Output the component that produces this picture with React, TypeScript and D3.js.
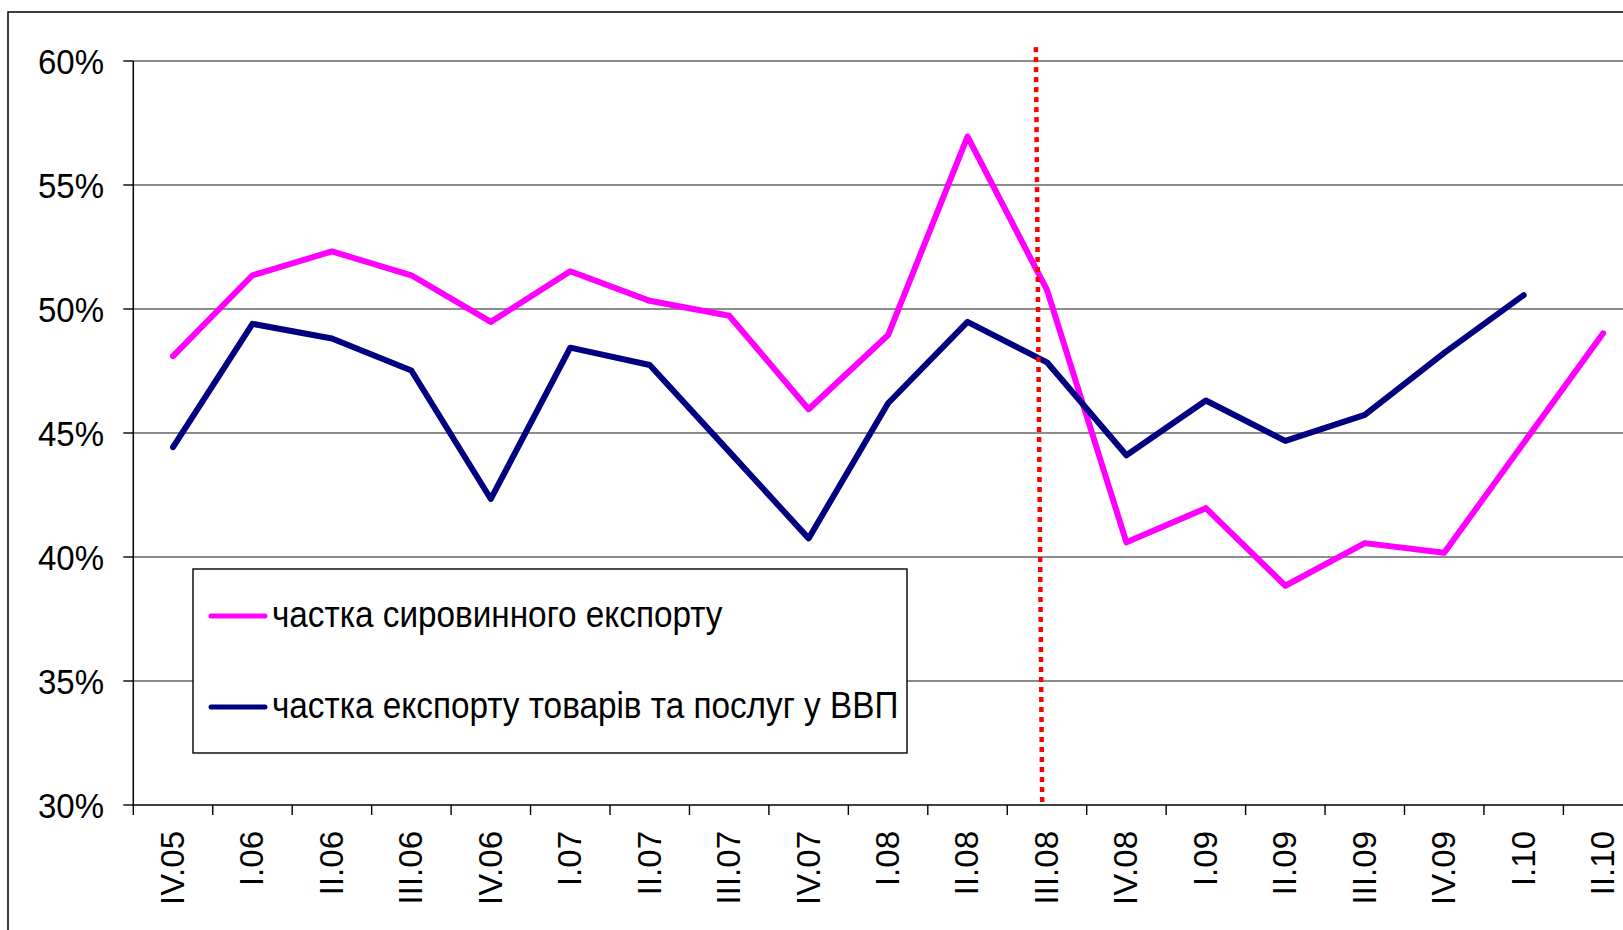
import React from "react";
import * as d3 from "d3";

const categories = [
  "IV.05", "I.06", "II.06", "III.06", "IV.06", "I.07", "II.07", "III.07", "IV.07",
  "I.08", "II.08", "III.08", "IV.08", "I.09", "II.09", "III.09", "IV.09", "I.10", "II.10",
];

// частка сировинного експорту
const rawShare: (number | null)[] = [
  48.1, 51.36, 52.32, 51.36, 49.48, 51.52, 50.33, 49.73, 45.96,
  48.95, 56.95, 50.77, 40.59, 41.97, 38.84, 40.56, 40.17, 44.6, 49.02,
];

// частка експорту товарів та послуг у ВВП
const exportShare: (number | null)[] = [
  44.43, 49.4, 48.81, 47.52, 42.34, 48.44, 47.74, 44.25, 40.75,
  46.2, 49.48, 47.85, 44.1, 46.31, 44.68, 45.73, 48.23, 50.56, null,
];

const yTicks = [30, 35, 40, 45, 50, 55, 60];

const seriesNames = ["частка сировинного експорту", "частка експорту товарів та послуг у ВВП"];
const seriesColors = ["#FF00FF", "#000080"];

const markerCategory = "III.08";
const markerTop = 60.56;

const W = 1623;
const H = 930;
const FONT = "'Liberation Sans', Arial, sans-serif";

export default function App() {
  const left = 133.3;
  const bw = 79.45;
  const x = d3
    .scaleBand<string>()
    .domain(categories)
    .range([left, left + bw * categories.length])
    .paddingInner(0)
    .paddingOuter(0);
  const y = d3.scaleLinear().domain([30, 60]).range([805, 61]);

  const cx = (c: string) => (x(c) as number) + x.bandwidth() / 2;

  const line = d3
    .line<number | null>()
    .defined((d) => d !== null)
    .x((_, i) => cx(categories[i]))
    .y((d) => y(d as number));

  const xRight = left + bw * categories.length;
  const mx0 = (x(markerCategory) as number) + x.bandwidth() * 0.36;
  const mx1 = (x(markerCategory) as number) + x.bandwidth() * 0.44;

  const legendX = 193;
  const legendY = 569;
  const legendW = 714;
  const legendH = 184;

  return (
    <div style={{ position: "fixed", left: 0, top: 0, width: W, height: H, overflow: "hidden", background: "#fff" }}>
      <svg width={W} height={H} style={{ display: "block" }} fontFamily={FONT}>
        <rect x={0} y={0} width={W} height={H} fill="#fff" />
        {/* outer frame (extends beyond the viewport) */}
        <rect x={8} y={12} width={W + 50} height={H + 50} fill="none" stroke="#000" strokeWidth={1.5} />

        {/* gridlines */}
        {yTicks.slice(1).map((t) => (
          <line key={"g" + t} x1={left} x2={xRight} y1={y(t)} y2={y(t)} stroke="#666" strokeWidth={1.4} />
        ))}
        {/* y ticks and labels */}
        {yTicks.map((t) => (
          <g key={"y" + t}>
            <line x1={left - 10} x2={left} y1={y(t)} y2={y(t)} stroke="#000" strokeWidth={1.4} />
            <text
              transform={`translate(104,${y(t)}) scale(1,1.06)`}
              dy="0.36em"
              textAnchor="end"
              fontSize={33}
              fill="#000"
            >
              {t}%
            </text>
          </g>
        ))}
        {/* axes */}
        <line x1={left} x2={left} y1={y(60)} y2={y(30)} stroke="#000" strokeWidth={1.5} />
        <line x1={left} x2={xRight} y1={y(30)} y2={y(30)} stroke="#000" strokeWidth={1.5} />
        {/* x ticks */}
        {categories.map((c) => (
          <line key={"xt" + c} x1={x(c) as number} x2={x(c) as number} y1={y(30)} y2={y(30) + 10} stroke="#000" strokeWidth={1.4} />
        ))}
        {/* x labels */}
        {categories.map((c) => (
          <text
            key={"xl" + c}
            transform={`translate(${cx(c) - 1},${831}) rotate(-90)`}
            textAnchor="end"
            dy="0.36em"
            fontSize={33}
            fill="#000"
          >
            {c}
          </text>
        ))}

        {/* series */}
        <path d={line(rawShare) || ""} fill="none" stroke={seriesColors[0]} strokeWidth={6} strokeLinejoin="round" strokeLinecap="round" />
        <path d={line(exportShare) || ""} fill="none" stroke={seriesColors[1]} strokeWidth={6} strokeLinejoin="round" strokeLinecap="round" />

        {/* red dotted marker */}
        <line x1={mx0} y1={y(markerTop)} x2={mx1} y2={y(30)} stroke="#FF0000" strokeWidth={4.5} strokeDasharray="5,5" />

        {/* legend */}
        <rect x={legendX} y={legendY} width={legendW} height={legendH} fill="#fff" stroke="#000" strokeWidth={1.4} />
        {seriesNames.map((n, i) => {
          const ly = i === 0 ? 616 : 707;
          return (
            <g key={"lg" + i}>
              <line x1={211} x2={265} y1={ly} y2={ly} stroke={seriesColors[i]} strokeWidth={5} strokeLinecap="round" />
              <text transform={`translate(272,${ly + 11}) scale(0.9,1)`} fontSize={37} fill="#000">
                {n}
              </text>
            </g>
          );
        })}
      </svg>
    </div>
  );
}
